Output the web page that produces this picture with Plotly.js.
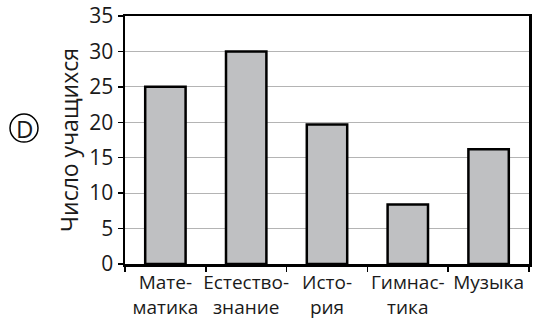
<!DOCTYPE html>
<html><head><meta charset="utf-8">
<script src="https://cdn.plot.ly/plotly-3.0.1.min.js"></script>
<style>html,body{margin:0;padding:0;background:#fff}#c{width:533px;height:320px}</style>
</head><body><div id="c"></div>
<script>
const categories = ["Мате-<br>матика", "Естество-<br>знание", "Исто-<br>рия", "Гимнас-<br>тика", "Музыка"];
const students = [25, 30, 19.7, 8.4, 16.2];
const yTicks = [0, 5, 10, 15, 20, 25, 30, 35];

const font = "Open Sans, DejaVu Sans, sans-serif";
Plotly.newPlot("c", [{
  type: "bar",
  x: categories,
  y: students,
  marker: {color: "#bfc0c2", line: {color: "#000", width: 2.5}},
  width: 0.5,
  hoverinfo: "none"
}], {
  width: 533, height: 320,
  margin: {l: 125, r: 4, t: 16, b: 56},
  paper_bgcolor: "#fff", plot_bgcolor: "#fff",
  showlegend: false,
  font: {family: font, color: "#1a1a1a"},
  xaxis: {
    type: "category",
    tickangle: 0,
    showline: true, linecolor: "#000", linewidth: 2.5, mirror: true,
    ticks: "outside", tickson: "boundaries", ticklen: 5, tickcolor: "#000", tickwidth: 1.5,
    tickfont: {size: 19, family: font, color: "#1a1a1a"},
    showgrid: false, fixedrange: true
  },
  yaxis: {
    range: [0, 35],
    tickvals: yTicks,
    ticktext: yTicks.map(String),
    showline: true, linecolor: "#000", linewidth: 2.5, mirror: true,
    ticks: "outside", ticklen: 5, tickcolor: "#000", tickwidth: 1.5,
    tickfont: {size: 21, family: font, color: "#1a1a1a"},
    showgrid: true, gridcolor: "#b4b4b4", gridwidth: 1,
    zeroline: false,
    title: {text: "Число учащихся", font: {size: 23, family: font, color: "#1a1a1a"}, standoff: 4},
    fixedrange: true
  },
  shapes: [{
    type: "circle", xref: "paper", yref: "paper",
    xsizemode: "pixel", ysizemode: "pixel",
    xanchor: -0.25, yanchor: 0.548,
    x0: -14, x1: 14, y0: -14, y1: 14,
    line: {color: "#000", width: 1.5}
  }],
  annotations: [{
    text: "D", xref: "paper", yref: "paper", x: -0.25, y: 0.548,
    showarrow: false, xanchor: "center", yanchor: "middle",
    font: {size: 24, family: font, color: "#1a1a1a"}
  }]
}, {displayModeBar: false, staticPlot: true});
</script></body></html>
